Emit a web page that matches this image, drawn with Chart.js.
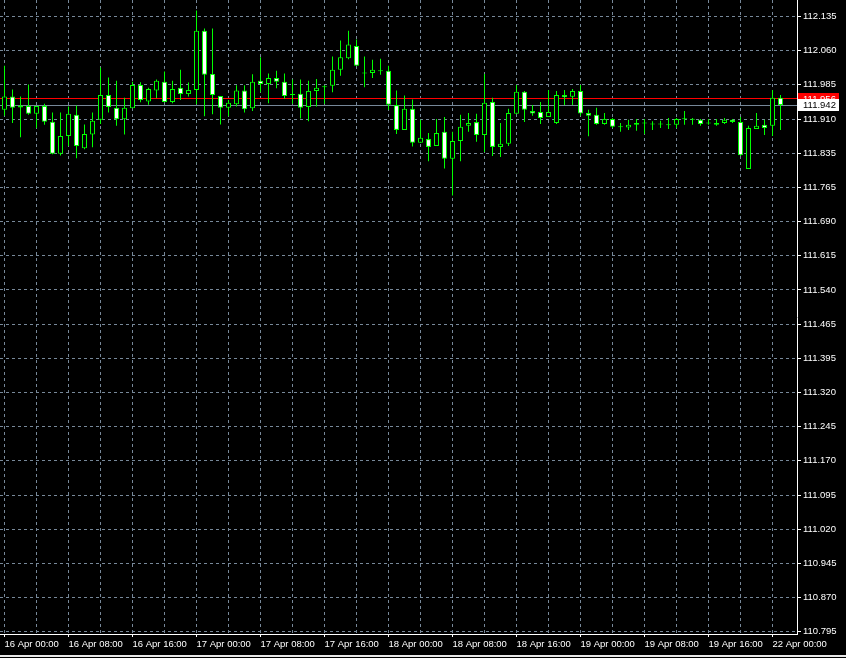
<!DOCTYPE html>
<html>
<head>
<meta charset="utf-8">
<title>USDJPY H1</title>
<script src="https://cdn.jsdelivr.net/npm/chart.js@4.4.1/dist/chart.umd.min.js"></script>
<style>
  html, body { margin: 0; padding: 0; background: #000; }
  canvas { display: block; }
</style>
</head>
<body>
<canvas id="chart" width="846" height="658"></canvas>
<script>
// hourly candles, 16 Apr 00:00 .. 22 Apr 01:00
const timeLabels = ['16 Apr 00:00', '16 Apr 08:00', '16 Apr 16:00', '17 Apr 00:00', '17 Apr 08:00',
  '17 Apr 16:00', '18 Apr 00:00', '18 Apr 08:00', '18 Apr 16:00', '19 Apr 00:00', '19 Apr 08:00',
  '19 Apr 16:00', '22 Apr 00:00']
const priceLabels = ['112.135', '112.060', '111.985', '111.910', '111.835', '111.765', '111.690',
  '111.615', '111.540', '111.465', '111.395', '111.320', '111.245', '111.170', '111.095', '111.020',
  '110.945', '110.870', '110.795']

const opens = [111.932, 111.961, 111.937, 111.940, 111.923, 111.940, 111.906, 111.836, 111.875, 111.921,
  111.848, 111.878, 111.910, 111.964, 111.936, 111.911, 111.935, 111.986, 111.950, 111.974,
  111.993, 111.949, 111.980, 111.966, 111.975, 112.104, 112.010, 111.962, 111.936, 111.944,
  111.974, 111.935, 111.995, 111.988, 112.001, 111.993, 111.964, 111.967, 111.938, 111.973,
  111.981, 111.984, 112.019, 112.044, 112.071, 112.013, 112.012, 112.016, 112.017, 111.942,
  111.888, 111.934, 111.860, 111.868, 111.853, 111.884, 111.825, 111.864, 111.897, 111.905,
  111.877, 111.949, 111.851, 111.858, 111.923, 111.971, 111.929, 111.927, 111.916, 111.903,
  111.964, 111.960, 111.973, 111.925, 111.921, 111.901, 111.912, 111.895, 111.893, 111.899,
  111.903, 111.901, 111.900, 111.899, 111.899, 111.912, 111.910, 111.910, 111.903, 111.899,
  111.903, 111.910, 111.905, 111.803, 111.890, 111.899, 111.897, 111.958]
const highs = [112.028, 111.976, 111.961, 111.987, 111.940, 111.945, 111.926, 111.926, 111.939, 111.941,
  111.900, 111.926, 112.024, 112.002, 111.995, 111.958, 111.993, 111.992, 111.980, 111.998,
  112.015, 111.995, 112.019, 111.991, 112.148, 112.109, 112.109, 111.962, 111.953, 111.985,
  111.985, 112.009, 112.046, 112.011, 112.017, 112.011, 111.998, 111.998, 111.995, 111.999,
  111.985, 112.048, 112.083, 112.104, 112.085, 112.048, 112.041, 112.043, 112.028, 111.974,
  111.963, 111.954, 111.910, 111.881, 111.912, 111.916, 111.884, 111.921, 111.925, 111.923,
  112.010, 111.958, 111.903, 111.934, 111.986, 111.973, 111.942, 111.949, 111.975, 111.973,
  111.975, 111.977, 111.986, 111.932, 111.936, 111.925, 111.914, 111.903, 111.910, 111.912,
  111.912, 111.907, 111.908, 111.914, 111.914, 111.929, 111.914, 111.912, 111.912, 111.912,
  111.914, 111.912, 111.916, 111.897, 111.925, 111.910, 111.975, 111.964]
const lows = [111.919, 111.903, 111.872, 111.921, 111.892, 111.899, 111.835, 111.832, 111.853, 111.826,
  111.846, 111.850, 111.901, 111.926, 111.897, 111.878, 111.935, 111.948, 111.943, 111.957,
  111.948, 111.946, 111.953, 111.961, 111.944, 111.918, 111.922, 111.900, 111.918, 111.939,
  111.926, 111.929, 111.970, 111.946, 111.979, 111.956, 111.945, 111.913, 111.907, 111.939,
  111.945, 111.970, 112.006, 112.042, 112.028, 111.981, 112.001, 112.008, 111.932, 111.879,
  111.888, 111.852, 111.860, 111.820, 111.853, 111.804, 111.745, 111.820, 111.884, 111.862,
  111.840, 111.831, 111.829, 111.853, 111.923, 111.905, 111.919, 111.901, 111.916, 111.901,
  111.942, 111.942, 111.919, 111.874, 111.899, 111.899, 111.892, 111.884, 111.888, 111.886,
  111.879, 111.888, 111.892, 111.890, 111.892, 111.899, 111.899, 111.897, 111.899, 111.897,
  111.901, 111.903, 111.831, 111.803, 111.890, 111.877, 111.875, 111.888]
const closes = [111.961, 111.936, 111.941, 111.923, 111.940, 111.906, 111.836, 111.875, 111.923, 111.853,
  111.879, 111.908, 111.964, 111.938, 111.911, 111.936, 111.986, 111.953, 111.977, 111.995,
  111.949, 111.977, 111.966, 111.975, 112.104, 112.008, 111.964, 111.936, 111.947, 111.974,
  111.933, 111.993, 111.988, 112.001, 111.993, 111.962, 111.965, 111.936, 111.973, 111.980,
  111.983, 112.019, 112.046, 112.074, 112.028, 112.011, 112.019, 112.017, 111.943, 111.888,
  111.934, 111.860, 111.871, 111.851, 111.881, 111.825, 111.864, 111.895, 111.903, 111.877,
  111.947, 111.851, 111.858, 111.925, 111.971, 111.932, 111.924, 111.914, 111.927, 111.964,
  111.959, 111.973, 111.924, 111.919, 111.901, 111.912, 111.895, 111.894, 111.899, 111.903,
  111.902, 111.900, 111.901, 111.898, 111.912, 111.911, 111.911, 111.901, 111.902, 111.903,
  111.910, 111.905, 111.833, 111.892, 111.897, 111.892, 111.958, 111.942]

const bidPrice = 111.942
const askPrice = 111.956

const GRID = 'rgb(119,136,153)'
const CANDLE = '#00ff00'

// y ticks sit on an even grid between first and last label
const yTop = parseFloat(priceLabels[0])
const yBottom = parseFloat(priceLabels[priceLabels.length - 1])
const yStep = (yTop - yBottom) / (priceLabels.length - 1)

Chart.defaults.font.family = "'Liberation Sans', Arial, sans-serif"
Chart.defaults.font.size = 9.5
Chart.defaults.color = '#ffffff'

const priceLines = {
  id: 'priceLines',
  beforeDatasetsDraw(chart) {
    const { ctx, chartArea: a, scales: { y } } = chart
    ctx.save()
    ctx.lineWidth = 1
    ;[[askPrice, '#ff0000'], [bidPrice, GRID]].forEach(([p, c]) => {
      const py = Math.floor(y.getPixelForValue(p)) + 0.5
      ctx.strokeStyle = c
      ctx.beginPath()
      ctx.moveTo(a.left, py)
      ctx.lineTo(a.right, py)
      ctx.stroke()
    })
    ctx.restore()
  },
  afterDraw(chart) {
    const { ctx, chartArea: a, scales: { y } } = chart
    ctx.save()
    ctx.font = "9.5px 'Liberation Sans', Arial, sans-serif"
    ctx.textBaseline = 'middle'
    // ask label (red) then bid label (white) on top
    let py = Math.round(y.getPixelForValue(askPrice))
    ctx.fillStyle = '#ff0000'
    ctx.fillRect(a.right + 1, py - 6, 41, 12)
    ctx.fillStyle = '#ffffff'
    ctx.fillText(askPrice.toFixed(3), a.right + 6, py)
    py = Math.round(y.getPixelForValue(bidPrice))
    ctx.fillStyle = '#ffffff'
    ctx.fillRect(a.right + 1, py - 6, 41, 12)
    ctx.fillStyle = '#000000'
    ctx.fillText(bidPrice.toFixed(3), a.right + 6, py)
    // window edge at the bottom
    ctx.fillStyle = '#e8e8e8'
    ctx.fillRect(0, 655, chart.width, 2)
    ctx.restore()
  }
}

new Chart(document.getElementById('chart'), {
  type: 'bar',
  data: {
    datasets: [
      {
        label: 'body',
        data: opens.map((o, i) => ({ x: i, y: [o, closes[i]] })),
        backgroundColor: opens.map((o, i) => closes[i] >= o ? '#000000' : '#ffffff'),
        borderColor: CANDLE,
        borderWidth: 1,
        borderSkipped: false,
        barThickness: 5,
        minBarLength: 1,
        inflateAmount: 0,
        grouped: false,
        order: 0
      },
      {
        label: 'wick',
        data: highs.map((h, i) => ({ x: i, y: [lows[i], h] })),
        backgroundColor: CANDLE,
        borderWidth: 0,
        barThickness: 1,
        inflateAmount: 0,
        grouped: false,
        order: 1
      }
    ]
  },
  options: {
    responsive: false,
    animation: false,
    devicePixelRatio: 1,
    layout: { padding: 0 },
    plugins: { legend: { display: false }, tooltip: { enabled: false } },
    scales: {
      x: {
        type: 'linear',
        offset: false,
        min: -0.5625,
        max: 99.0625,
        afterBuildTicks: (s) => {
          const t = []
          for (let i = 0; i <= 96; i += 4) t.push({ value: i })
          s.ticks = t
        },
        afterFit: (s) => {
          s.height = 24
          s.paddingLeft = 0
          s.paddingRight = 0
        },
        grid: {
          offset: false,
          color: GRID,
          lineWidth: 1,
          tickLength: 3,
          tickColor: (c) => (c.tick && c.tick.value % 8 === 0) ? '#ffffff' : 'rgba(0,0,0,0)'
        },
        border: { display: true, color: '#ffffff', width: 1, dash: [3, 3] },
        ticks: {
          autoSkip: false,
          maxRotation: 0,
          align: 'start',
          padding: 2,
          color: '#ffffff',
          callback: (v) => v % 8 === 0 ? timeLabels[v / 8] : ''
        }
      },
      y: {
        position: 'right',
        beginAtZero: false,
        min: 110.79009,
        max: 112.17094,
        afterBuildTicks: (s) => {
          s.ticks = priceLabels.map((t, i) => ({ value: yTop - i * yStep }))
        },
        afterFit: (s) => {
          s.width = 49
          s.paddingTop = 0
          s.paddingBottom = 0
        },
        grid: { color: GRID, lineWidth: 1, tickLength: 4, tickColor: '#ffffff' },
        border: { display: true, color: '#ffffff', width: 1, dash: [3, 3] },
        ticks: {
          autoSkip: false,
          padding: 2,
          color: '#ffffff',
          callback: (v, i) => priceLabels[i]
        }
      }
    }
  },
  plugins: [priceLines]
})
</script>
</body>
</html>
